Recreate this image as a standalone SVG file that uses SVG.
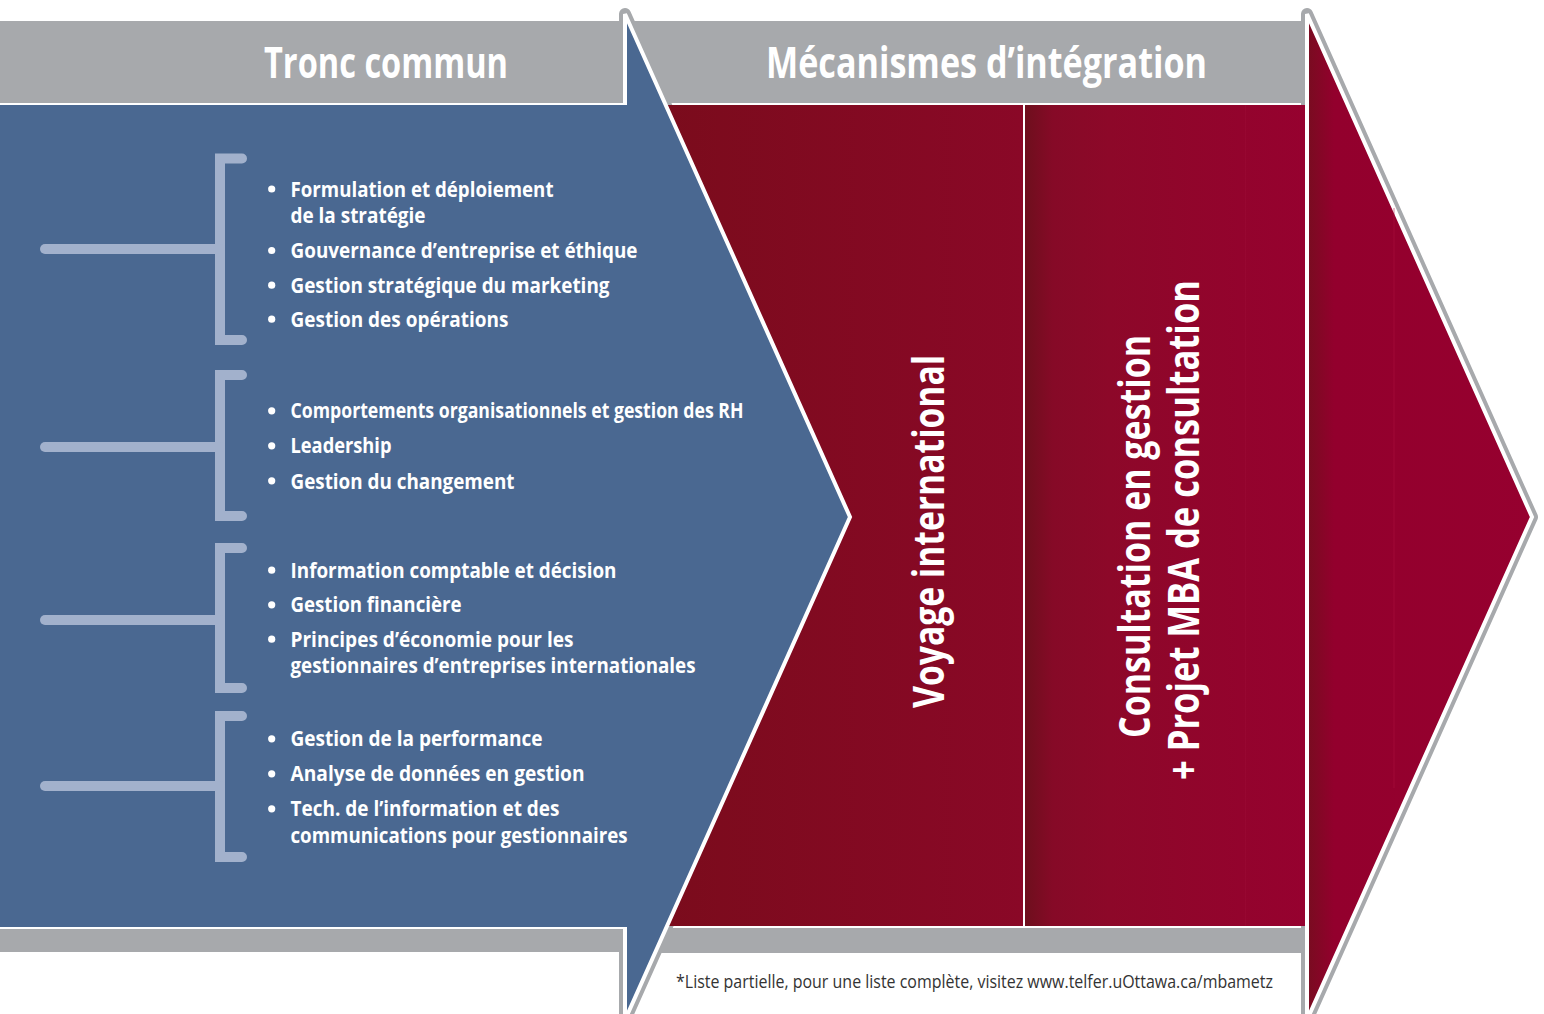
<svg xmlns="http://www.w3.org/2000/svg" width="1544" height="1014" viewBox="0 0 1544 1014">
  <defs>
    <linearGradient id="redLeft" x1="625" y1="0" x2="1023" y2="0" gradientUnits="userSpaceOnUse">
      <stop offset="0" stop-color="#790c1b"/>
      <stop offset="1" stop-color="#8a0827"/>
    </linearGradient>
    <linearGradient id="redRight" x1="1025" y1="0" x2="1306" y2="0" gradientUnits="userSpaceOnUse">
      <stop offset="0" stop-color="#6e0f1d"/>
      <stop offset="0.1" stop-color="#860a27"/>
      <stop offset="0.3" stop-color="#8d0829"/>
      <stop offset="1" stop-color="#96012f"/>
    </linearGradient>
    <linearGradient id="redArrow" x1="1307" y1="0" x2="1535" y2="0" gradientUnits="userSpaceOnUse">
      <stop offset="0" stop-color="#780c20"/>
      <stop offset="0.12" stop-color="#93002d"/>
      <stop offset="1" stop-color="#96002f"/>
    </linearGradient>
    <style>
      .band { fill: #a7a9ac; }
      .outline { fill: none; stroke: #a7a9ac; stroke-width: 12; stroke-linejoin: round; }
      .inner { stroke: #ffffff; stroke-width: 4; stroke-linejoin: miter; }
      .bracket { fill: none; stroke: #a2b1cc; stroke-width: 10; stroke-linecap: round; stroke-linejoin: miter; }
      .head { font-family: "Liberation Sans Narrow", "Open Sans", sans-serif; font-weight: bold; font-size: 43px; fill: #ffffff; }
      .item { font-family: "Liberation Sans Narrow", "Open Sans", sans-serif; font-weight: bold; font-size: 21px; fill: #ffffff; }
      .vert { font-family: "Liberation Sans Narrow", "Open Sans", sans-serif; font-weight: bold; font-size: 43px; fill: #ffffff; }
      .foot { font-family: "Liberation Sans Narrow", "Open Sans", sans-serif; font-size: 18px; fill: #333333; }
      .dot { fill: #ffffff; }
    </style>
  </defs>

  <rect width="1544" height="1014" fill="#ffffff"/>

  <!-- grey outlines of both arrows (visible only outside the bands/panel) -->
  <g id="arrow-outlines">
    <polygon class="outline" points="625,14 850,517 625,1020"/>
    <polygon class="outline" points="1307,14 1532,517 1307,1020"/>
  </g>

  <!-- header and footer bands -->
  <g id="bands">
    <rect class="band" x="0" y="21" width="1306" height="82"/>
    <rect class="band" x="625" y="928" width="681" height="25"/>
  </g>

  <!-- integration mechanisms panel -->
  <g id="mecanismes-panel">
    <rect x="625" y="105" width="399" height="821" fill="url(#redLeft)"/>
    <rect x="1025" y="105" width="281" height="821" fill="url(#redRight)"/>
    <rect x="1023" y="105" width="2" height="821" fill="#ffffff"/>
    <line x1="1245.5" y1="105" x2="1245.5" y2="926" stroke="#a0103a" stroke-opacity="0.35" stroke-width="1"/>
  </g>

  <!-- blue arrow (Tronc commun) -->
  <g id="tronc-commun-arrow">
    <polygon class="inner" fill="#4a6891" points="625,14 850,517 625,1020"/>
    <rect x="0" y="103" width="626" height="2" fill="#ffffff"/>
    <rect x="0" y="105" width="632" height="822" fill="#4a6891"/>
    <rect x="0" y="927" width="624" height="2" fill="#ffffff"/>
    <rect class="band" x="0" y="929" width="621" height="23"/>
  </g>

  <!-- right red arrow -->
  <g id="end-arrow">
    <polygon class="inner" fill="url(#redArrow)" points="1307,14 1532,517 1307,1020"/>
    <line x1="1394" y1="208" x2="1394" y2="788" stroke="#b0103f" stroke-opacity="0.35" stroke-width="1.5"/>
  </g>

  <!-- headers -->
  <g id="header-tronc">
    <text class="head" x="264" y="78" textLength="244" lengthAdjust="spacingAndGlyphs">Tronc commun</text>
  </g>
  <g id="header-mecanismes">
    <text class="head" x="766" y="78" textLength="441" lengthAdjust="spacingAndGlyphs">Mécanismes d’intégration</text>
  </g>

  <!-- connectors: brackets linking to course groups -->
  <g id="connectors">
    <path class="bracket" d="M242,158.5 H220 V340 H242"/>
    <path class="bracket" d="M45,249 H220"/>
    <path class="bracket" d="M242,375 H220 V516 H242"/>
    <path class="bracket" d="M45,447 H220"/>
    <path class="bracket" d="M242,548 H220 V688 H242"/>
    <path class="bracket" d="M45,620 H220"/>
    <path class="bracket" d="M242,716 H220 V857 H242"/>
    <path class="bracket" d="M45,786 H220"/>
  </g>

  <!-- group 1 -->
  <g id="group-strategie">
    <circle class="dot" cx="271.7" cy="189" r="3.6"/>
    <text class="item" x="290.5" y="197" textLength="263" lengthAdjust="spacingAndGlyphs">Formulation et déploiement</text>
    <text class="item" x="290.5" y="222.7" textLength="135" lengthAdjust="spacingAndGlyphs">de la stratégie</text>
    <circle class="dot" cx="271.7" cy="250.5" r="3.6"/>
    <text class="item" x="290.5" y="258" textLength="347" lengthAdjust="spacingAndGlyphs">Gouvernance d’entreprise et éthique</text>
    <circle class="dot" cx="271.7" cy="285.2" r="3.6"/>
    <text class="item" x="290.5" y="292.7" textLength="319" lengthAdjust="spacingAndGlyphs">Gestion stratégique du marketing</text>
    <circle class="dot" cx="271.7" cy="319.2" r="3.6"/>
    <text class="item" x="290.5" y="326.7" textLength="218" lengthAdjust="spacingAndGlyphs">Gestion des opérations</text>
  </g>

  <!-- group 2 -->
  <g id="group-rh">
    <circle class="dot" cx="271.7" cy="410.8" r="3.6"/>
    <text class="item" x="290.5" y="418.3" textLength="453" lengthAdjust="spacingAndGlyphs">Comportements organisationnels et gestion des RH</text>
    <circle class="dot" cx="271.7" cy="445.8" r="3.6"/>
    <text class="item" x="290.5" y="453.3" textLength="101" lengthAdjust="spacingAndGlyphs">Leadership</text>
    <circle class="dot" cx="271.7" cy="480.8" r="3.6"/>
    <text class="item" x="290.5" y="488.5" textLength="224" lengthAdjust="spacingAndGlyphs">Gestion du changement</text>
  </g>

  <!-- group 3 -->
  <g id="group-finance">
    <circle class="dot" cx="271.7" cy="570.2" r="3.6"/>
    <text class="item" x="290.5" y="577.7" textLength="326" lengthAdjust="spacingAndGlyphs">Information comptable et décision</text>
    <circle class="dot" cx="271.7" cy="604.8" r="3.6"/>
    <text class="item" x="290.5" y="612.3" textLength="171" lengthAdjust="spacingAndGlyphs">Gestion financière</text>
    <circle class="dot" cx="271.7" cy="639.2" r="3.6"/>
    <text class="item" x="290.5" y="646.7" textLength="283" lengthAdjust="spacingAndGlyphs">Principes d’économie pour les</text>
    <text class="item" x="290.5" y="673.3" textLength="405" lengthAdjust="spacingAndGlyphs">gestionnaires d’entreprises internationales</text>
  </g>

  <!-- group 4 -->
  <g id="group-performance">
    <circle class="dot" cx="271.7" cy="738.8" r="3.6"/>
    <text class="item" x="290.5" y="746.3" textLength="252" lengthAdjust="spacingAndGlyphs">Gestion de la performance</text>
    <circle class="dot" cx="271.7" cy="773.8" r="3.6"/>
    <text class="item" x="290.5" y="781.3" textLength="294" lengthAdjust="spacingAndGlyphs">Analyse de données en gestion</text>
    <circle class="dot" cx="271.7" cy="808.8" r="3.6"/>
    <text class="item" x="290.5" y="816.3" textLength="269" lengthAdjust="spacingAndGlyphs">Tech. de l’information et des</text>
    <text class="item" x="290.5" y="843.3" textLength="337" lengthAdjust="spacingAndGlyphs">communications pour gestionnaires</text>
  </g>

  <!-- vertical labels -->
  <g id="voyage-international">
    <text class="vert" transform="translate(944,531.5) rotate(-90)" text-anchor="middle" textLength="353" lengthAdjust="spacingAndGlyphs">Voyage international</text>
  </g>
  <g id="consultation">
    <text class="vert" transform="translate(1150,536.5) rotate(-90)" text-anchor="middle" textLength="403" lengthAdjust="spacingAndGlyphs">Consultation en gestion</text>
    <text class="vert" transform="translate(1199,530) rotate(-90)" text-anchor="middle" textLength="500" lengthAdjust="spacingAndGlyphs">+ Projet MBA de consultation</text>
  </g>

  <!-- footnote -->
  <g id="footnote">
    <text class="foot" x="676" y="988" textLength="597" lengthAdjust="spacingAndGlyphs">*Liste partielle, pour une liste complète, visitez www.telfer.uOttawa.ca/mbametz</text>
  </g>
</svg>
